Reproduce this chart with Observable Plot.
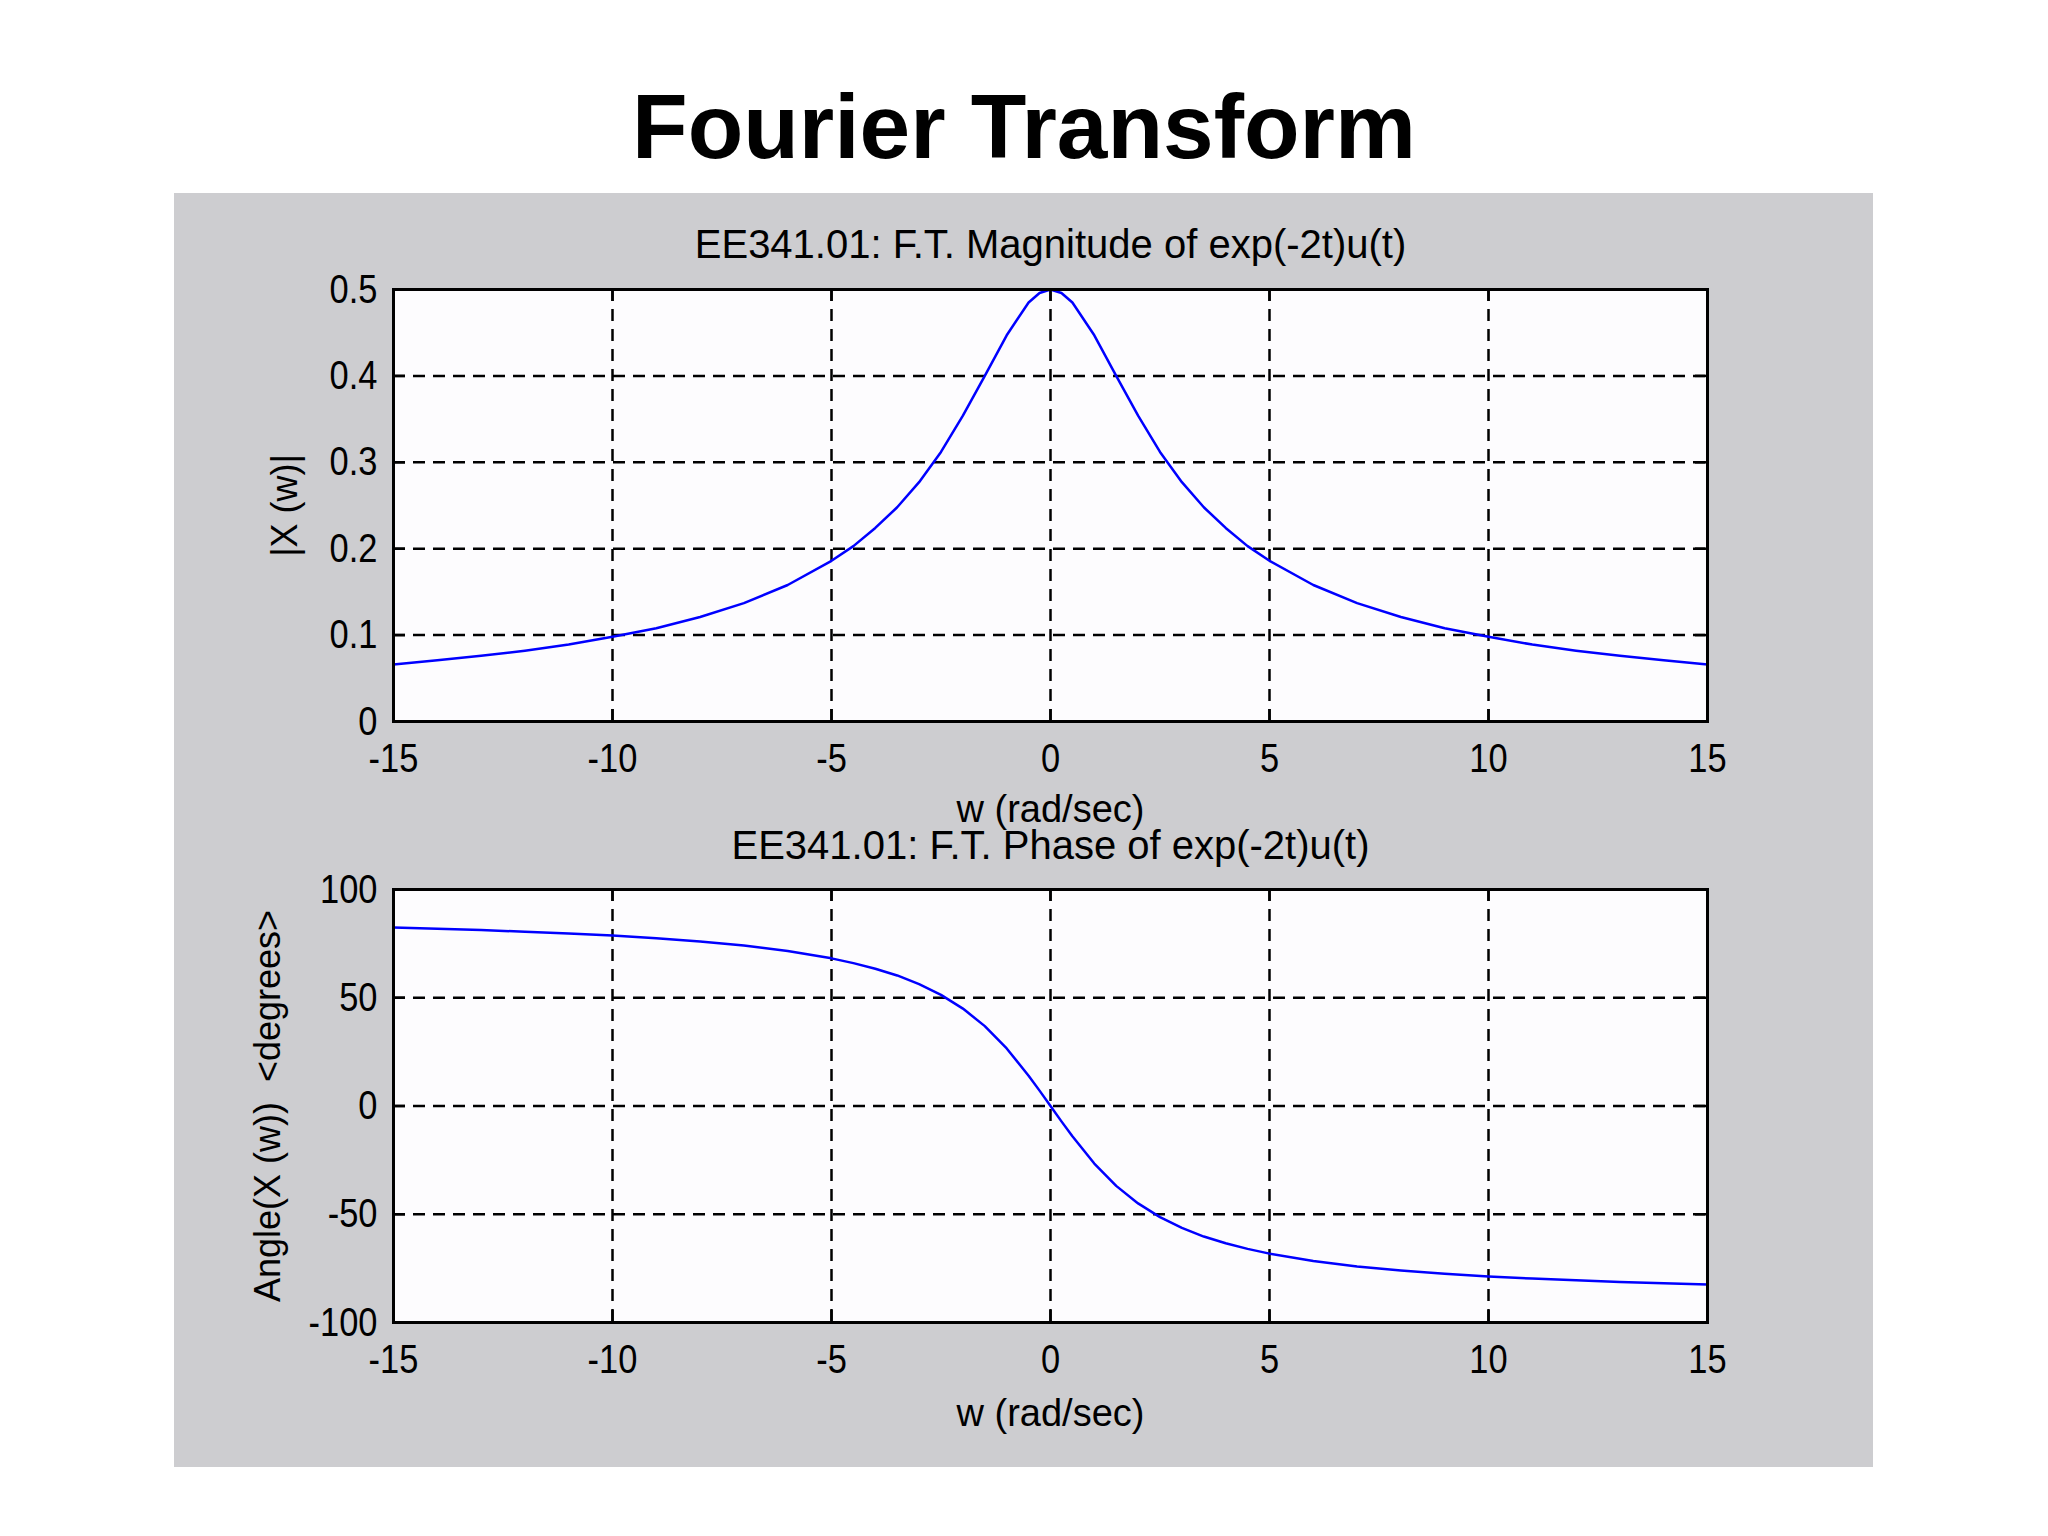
<!DOCTYPE html>
<html>
<head>
<meta charset="utf-8">
<script src="https://cdn.jsdelivr.net/npm/d3@7"></script>
<script src="https://cdn.jsdelivr.net/npm/@observablehq/plot@0.6"></script>
<style>
  html, body { margin: 0; padding: 0; background: #ffffff; }
  body { width: 2048px; height: 1536px; position: relative; overflow: hidden; }
  #title {
    position: absolute; left: 0; width: 2048px; top: 81px;
    text-align: center; font-family: "Liberation Sans", Arial, sans-serif;
    font-weight: bold; font-size: 91px; line-height: 91px; color: #000;
  }
  #panel {
    position: absolute; left: 174px; top: 193px; width: 1699px; height: 1274px;
    background: #cdcdd0;
  }
  #panel svg { display: block; overflow: visible; }
</style>
</head>
<body>
<div id="title">Fourier Transform</div>
<div id="panel"></div>
<script>
// ---- data ----
const w = [-15, -14, -13, -12, -11, -10, -9, -8, -7, -6, -5, -4.5, -4, -3.5, -3, -2.5, -2, -1.5, -1, -0.5, -0.25,
           0, 0.25, 0.5, 1, 1.5, 2, 2.5, 3, 3.5, 4, 4.5, 5, 6, 7, 8, 9, 10, 11, 12, 13, 14, 15];
const magnitude = [0.066, 0.071, 0.076, 0.082, 0.089, 0.098, 0.108, 0.121, 0.137, 0.158, 0.186, 0.203, 0.224, 0.248, 0.277, 0.312, 0.354, 0.400, 0.447, 0.485, 0.496,
                   0.500, 0.496, 0.485, 0.447, 0.400, 0.354, 0.312, 0.277, 0.248, 0.224, 0.203, 0.186, 0.158, 0.137, 0.121, 0.108, 0.098, 0.089, 0.082, 0.076, 0.071, 0.066];
const phase = [82.4, 81.9, 81.3, 80.5, 79.7, 78.7, 77.5, 76.0, 74.1, 71.6, 68.2, 66.0, 63.4, 60.3, 56.3, 51.3, 45.0, 36.9, 26.6, 14.0, 7.1,
               0, -7.1, -14.0, -26.6, -36.9, -45.0, -51.3, -56.3, -60.3, -63.4, -66.0, -68.2, -71.6, -74.1, -76.0, -77.5, -78.7, -79.7, -80.5, -81.3, -81.9, -82.4];
const xTicks = [-15, -10, -5, 0, 5, 10, 15];
const magTicks = [0, 0.1, 0.2, 0.3, 0.4, 0.5];
const phaseTicks = [-100, -50, 0, 50, 100];
const titles = ["EE341.01: F.T. Magnitude of exp(-2t)u(t)", "EE341.01: F.T. Phase of exp(-2t)u(t)"];
const xLabel = "w (rad/sec)";
const yLabels = ["|X (w)|", "Angle(X (w)) \u00a0<degrees>"];

const rows = w.map((v, i) => ({w: v, mag: magnitude[i], phase: phase[i]}));

const labelFont = "Liberation Sans, Arial, sans-serif";
const tickFont = "Liberation Sans, Arial, sans-serif";
const W = 1699, ML = 219, MR = 166, TICK = 12;

function panel({yField, yDomain, yTicks, title, yLabel, height, marginTop, marginBottom, titleDy, xLabelDy, yLabelDx}) {
  const fw = W - ML - MR;
  const fh = height - marginTop - marginBottom;
  const grid = {stroke: "#000", strokeOpacity: 1, strokeWidth: 2.5, strokeDasharray: "12,8"};
  const tk = {stroke: "#000", strokeWidth: 2.5};
  const svg = Plot.plot({
    width: W,
    height,
    marginLeft: ML,
    marginRight: MR,
    marginTop,
    marginBottom,
    style: {background: "transparent", color: "#000", overflow: "visible"},
    x: {domain: [-15, 15]},
    y: {domain: yDomain},
    marks: [
      Plot.frame({fill: "#fdfcfe", stroke: null}),
      Plot.gridX(xTicks, grid),
      Plot.gridY(yTicks, grid),
      Plot.tickX(xTicks, {x: d => d, insetBottom: fh - TICK, ...tk}),
      Plot.tickX(xTicks, {x: d => d, insetTop: fh - TICK, ...tk}),
      Plot.tickY(yTicks, {y: d => d, insetRight: fw - TICK, ...tk}),
      Plot.tickY(yTicks, {y: d => d, insetLeft: fw - TICK, ...tk}),
      Plot.line(rows, {x: "w", y: yField, stroke: "#0000ff", strokeWidth: 2.5}),
      Plot.frame({stroke: "#000", strokeWidth: 3}),
      Plot.axisX(xTicks, {tickSize: 0, tickPadding: 21, tickFormat: d => String(d), fontSize: 41, fontFamily: tickFont, label: null}),
      Plot.axisY(yTicks, {tickSize: 0, tickPadding: 16, tickFormat: d => String(d), fontSize: 41, fontFamily: tickFont, label: null}),
      Plot.text([title], {text: d => d, frameAnchor: "top", lineAnchor: "bottom", dy: titleDy, fontSize: 40, fontFamily: labelFont}),
      Plot.text([xLabel], {text: d => d, frameAnchor: "bottom", lineAnchor: "bottom", dy: xLabelDy, fontSize: 38, fontFamily: labelFont}),
      Plot.text([yLabel], {text: d => d, frameAnchor: "left", textAnchor: "middle", rotate: -90, lineAnchor: "middle", dx: yLabelDx, fontSize: 36, fontFamily: labelFont})
    ]
  });
  // narrow the tick-label glyphs horizontally, like the reference's condensed digits
  svg.querySelectorAll('g[aria-label="x-axis tick label"] text, g[aria-label="y-axis tick label"] text').forEach(t => {
    const tr = t.getAttribute("transform") || "";
    t.setAttribute("transform", tr + " scale(0.84,1)");
  });
  return svg;
}

const host = document.getElementById("panel");
host.appendChild(panel({
  yField: "mag", yDomain: [0, 0.5], yTicks: magTicks, title: titles[0], yLabel: yLabels[0],
  height: 632, marginTop: 96, marginBottom: 104, titleDy: -32, xLabelDy: 100, yLabelDx: -108
}));
host.appendChild(panel({
  yField: "phase", yDomain: [-100, 100], yTicks: phaseTicks, title: titles[1], yLabel: yLabels[1],
  height: 642, marginTop: 64, marginBottom: 145, titleDy: -31, xLabelDy: 103, yLabelDx: -125
}));
</script>
</body>
</html>
